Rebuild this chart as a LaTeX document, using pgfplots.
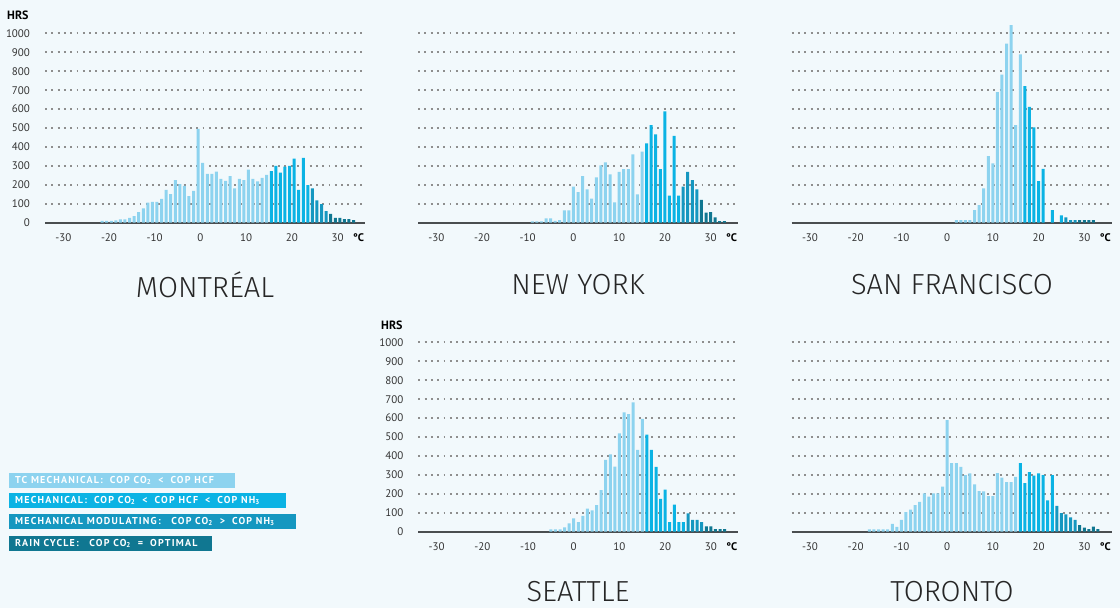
\documentclass[border=0pt]{standalone}
\usepackage{pgfplots}
\pgfplotsset{compat=1.18}
\usepackage{pgfplotstable}
\usepackage{fontspec}
\setmainfont{PT Sans}
\newfontfamily\titlefont{Fira Sans Light}
\newfontfamily\legfont[LetterSpace=12]{PT Sans}

\definecolor{bgcol}{HTML}{F2F9FC}
\definecolor{cTC}{HTML}{8DD3EF}
\definecolor{cMech}{HTML}{0BB3E4}
\definecolor{cMod}{HTML}{1597C0}
\definecolor{cRain}{HTML}{107791}
\definecolor{tickgray}{HTML}{333333}
\definecolor{basegray}{HTML}{4A4E50}
\definecolor{gridgray}{HTML}{8E8E8E}

\pgfplotstableread{
x y
-21.5 10
-20.5 10
-19.5 10
-18.5 12
-17.5 17
-16.5 18
-15.5 25
-14.5 35
-13.5 56
-12.5 76
-11.5 106
-10.5 110
-9.5 110
-8.5 126
-7.5 174
-6.5 151
-5.5 225
-4.5 204
-3.5 195
-2.5 140
-1.5 168
-0.5 496
0.5 316
1.5 258
2.5 258
3.5 270
4.5 232
5.5 221
6.5 246
7.5 182
8.5 232
9.5 225
10.5 281
11.5 232
12.5 218
13.5 237
14.5 253
15.5 273
16.5 300
17.5 265
18.5 296
19.5 300
20.5 339
21.5 174
22.5 342
23.5 198
24.5 181
25.5 118
26.5 98
27.5 61
28.5 47
29.5 25
30.5 25
31.5 19
32.5 19
33.5 14
}\montreal

\pgfplotstableread{
x y
-9 7
-8 7
-7 7
-6 23
-5 23
-4 9
-3 14
-2 65
-1 65
0 190
1 162
2 246
3 176
4 127
5 239
6 303
7 319
8 255
9 107
10 268
11 283
12 283
13 361
14 150
15 375
16 419
17 516
18 467
19 283
20 588
21 143
22 459
23 143
24 190
25 269
26 225
27 176
28 120
29 53
30 56
31 28
32 8
33 8
}\newyork

\pgfplotstableread{
x y
2 14
3 14
4 14
5 14
6 67
7 93
8 181
9 352
10 313
11 690
12 782
13 946
14 1044
15 515
16 889
17 721
18 612
19 504
20 219
21 284
23 67
25 39
26 28
27 14
28 14
29 14
30 14
31 14
32 14
}\sanfran

\pgfplotstableread{
x y
-5 12
-4 12
-3 12
-2 23
-1 44
0 71
1 51
2 83
3 122
4 113
5 141
6 220
7 379
8 409
9 344
10 519
11 630
12 621
13 683
14 432
15 596
16 513
17 432
18 342
19 173
20 222
21 51
22 143
23 51
24 51
25 97
26 63
27 63
28 51
29 28
30 28
31 14
32 14
33 14
}\seattle

\pgfplotstableread{
x y
-17 12
-16 12
-15 12
-14 12
-13 12
-12 42
-11 26
-10 62
-9 104
-8 116
-7 141
-6 158
-5 202
-4 185
-3 202
-2 202
-1 238
0 590
1 362
2 362
3 343
4 299
5 308
6 250
7 215
8 213
9 188
10 188
11 310
12 286
13 262
14 262
15 290
16 362
17 256
18 315
19 296
20 308
21 299
22 166
23 299
24 136
25 98
26 92
27 76
28 62
29 35
30 21
31 14
32 27
33 14
}\toronto

\pgfplotsset{
  hist/.style={
    scale only axis, width=320bp, height=189.3bp,
    xmin=-34, xmax=36, ymin=0, ymax=1000,
    clip=false,
    axis x line*=bottom, axis y line*=left,
    x axis line style={-, line width=2bp, color=basegray},
    y axis line style={draw=none},
    xtick={-30,-20,-10,0,10,20,30},
    xticklabels={-30,-20,-10,0,10,20,30},
    ytick={100,200,...,1000},
    yticklabels={100,200,300,400,500,600,700,800,900,1000},
    extra y ticks={0}, extra y tick labels={0},
    extra y tick style={grid=none},
    major tick length=0pt,
    tick style={draw=none},
    ymajorgrids,
    grid style={gridgray, line width=1.9bp, line cap=butt, dash pattern=on 1.9bp off 4.4bp},
    xticklabel style={anchor=center, yshift=-14.5bp, font=\fontsize{11bp}{12bp}\selectfont, text=tickgray},
    yticklabel style={anchor=east, xshift=-11.5bp, font=\fontsize{11bp}{12bp}\selectfont, text=tickgray},
  },
  lefthist/.style={hist},
  righthist/.style={hist, yticklabel style={opacity=0}},
  barst/.style={ybar, bar width=3bp, bar shift=0pt, draw=none},
}

\newcommand{\bars}[4]{%
  \addplot[barst, fill=cTC, restrict x to domain=-50:#2] table {#1};
  \addplot[barst, fill=cMech, restrict x to domain=#2:#3] table {#1};
  \addplot[barst, fill=cMod, restrict x to domain=#3:#4] table {#1};
  \addplot[barst, fill=cRain, restrict x to domain=#4:50] table {#1};
  \node[font=\bfseries\fontsize{11bp}{12bp}\selectfont, text=black] at (axis cs:34.6,0) [yshift=-14.5bp] {°C};
}
\newcommand{\gap}{\hspace{7bp}}

\begin{document}
\begin{tikzpicture}
\fill[bgcol] (0bp,0bp) rectangle (1120bp,-608bp);
\path[use as bounding box] (0bp,0bp) rectangle (1120bp,-608bp);

\begin{axis}[lefthist, at={(45bp,-222.7bp)}, anchor=south west]
\bars{\montreal}{15}{24}{28}
\end{axis}

\begin{axis}[righthist, at={(418bp,-222.7bp)}, anchor=south west]
\bars{\newyork}{15.5}{23.5}{27.5}
\end{axis}

\begin{axis}[righthist, at={(791.7bp,-222.7bp)}, anchor=south west]
\bars{\sanfran}{16.5}{25.5}{28.5}
\end{axis}

\begin{axis}[lefthist, at={(418.3bp,-531.7bp)}, anchor=south west]
\bars{\seattle}{15.5}{24.5}{28.5}
\end{axis}

\begin{axis}[righthist, at={(791.7bp,-531.7bp)}, anchor=south west]
\bars{\toronto}{15.5}{23.5}{28.5}
\end{axis}

\node[font=\bfseries\fontsize{12bp}{14bp}\selectfont, anchor=west, inner sep=0pt] at (7bp,-15bp) {HRS};
\node[font=\bfseries\fontsize{12bp}{14bp}\selectfont, anchor=west, inner sep=0pt] at (381bp,-325bp) {HRS};

\begin{scope}[every node/.style={font=\titlefont\fontsize{29bp}{32bp}\selectfont, text=black!85, inner sep=1bp}]
\node at (205bp,-285bp) {MONTRÉAL};
\node at (578bp,-285bp) {NEW YORK};
\node at (952bp,-285bp) {SAN FRANCISCO};
\node at (578bp,-592bp) {SEATTLE};
\node at (952bp,-592bp) {TORONTO};
\end{scope}

\begin{scope}[every node/.style={anchor=west, minimum height=15bp, inner xsep=6bp, inner ysep=0pt, text=white, font=\legfont\bfseries\fontsize{10bp}{11bp}\selectfont}]
\node[fill=cTC] at (9bp,-480.5bp) {\makebox[214bp][l]{TC MECHANICAL:\gap COP CO\textsubscript{2}\gap <\gap COP HCF}};
\node[fill=cMech] at (9bp,-500.5bp) {\makebox[265bp][l]{MECHANICAL:\gap COP CO\textsubscript{2}\gap <\gap COP HCF\gap <\gap COP NH\textsubscript{3}}};
\node[fill=cMod] at (9bp,-521.5bp) {\makebox[275bp][l]{MECHANICAL MODULATING:\gap\ COP CO\textsubscript{2}\gap >\gap COP NH\textsubscript{3}}};
\node[fill=cRain] at (9bp,-543.5bp) {\makebox[191bp][l]{RAIN CYCLE:\gap\ COP CO\textsubscript{2}\gap =\gap OPTIMAL}};
\end{scope}
\end{tikzpicture}
\end{document}
